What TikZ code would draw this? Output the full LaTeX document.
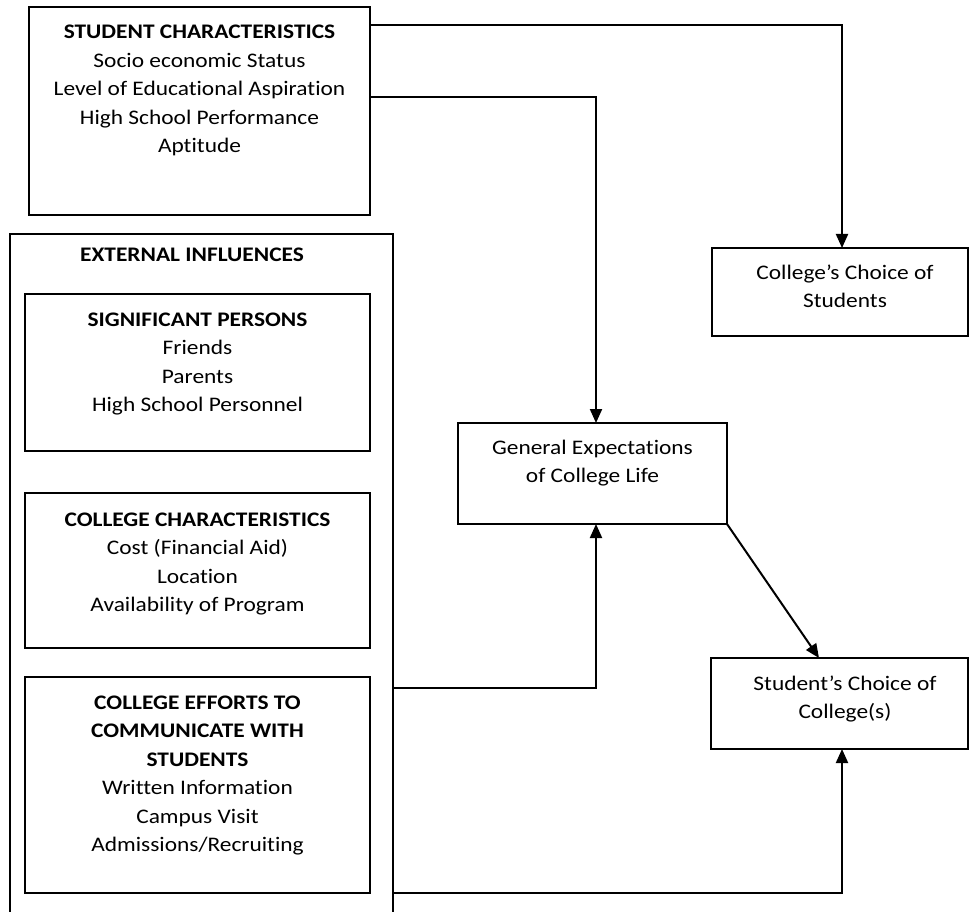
\documentclass[tikz,border=0pt]{standalone}
\usepackage{fontspec}
\setmainfont[FakeStretch=1.13, RawFeature={-liga;-dlig}]{Carlito}
\usetikzlibrary{arrows.meta,calc}

% invisible strut that fixes the height of a first text line
\newcommand{\firstline}{\rule{0pt}{16pt}}

\tikzset{
  box/.style={draw=black, line width=1.3pt, rectangle, inner sep=0pt,
              outer sep=0pt, anchor=north west},
  txt/.style={align=center, inner sep=0pt, outer sep=0pt, anchor=north,
              font=\fontsize{20.7pt}{28.5pt}\selectfont},
  arr/.style={draw=black, line width=2pt,
              -{Triangle[length=14pt,width=12pt]}}
}

\begin{document}
\begin{tikzpicture}[x=1pt,y=-1pt]
  \clip (0,0) rectangle (969,912);
  \fill[white] (0,0) rectangle (969,912);

  % ---- student characteristics ----
  \node[box, minimum width=341pt, minimum height=208pt] (sc) at (29,7) {};
  \node[txt] (sctext) at (199.5,23) {\firstline\textbf{STUDENT CHARACTERISTICS}\\
    Socio economic Status\\Level of Educational Aspiration\\
    High School Performance\\Aptitude};

  % ---- external influences and its three groups ----
  \node[box, minimum width=383pt, minimum height=700pt] (ext) at (10,234) {};
  \node[txt] (exttext) at (192,245.5) {\firstline\textbf{EXTERNAL INFLUENCES}};

  \node[box, minimum width=345pt, minimum height=157pt] (sp) at (25,294) {};
  \node[txt] (sptext) at (197.5,310) {\firstline\textbf{SIGNIFICANT PERSONS}\\
    Friends\\Parents\\High School Personnel};

  \node[box, minimum width=345pt, minimum height=155pt] (cc) at (25,493) {};
  \node[txt] (cctext) at (197.5,510) {\firstline\textbf{COLLEGE CHARACTERISTICS}\\
    Cost (Financial Aid)\\Location\\Availability of Program};

  \node[box, minimum width=345pt, minimum height=216pt] (ce) at (25,677) {};
  \node[txt] (cetext) at (197.5,693) {\firstline\textbf{COLLEGE EFFORTS TO}\\
    \textbf{COMMUNICATE WITH}\\\textbf{STUDENTS}\\
    Written Information\\Campus Visit\\Admissions/Recruiting};

  % ---- outcome boxes ----
  \node[box, minimum width=256pt, minimum height=88pt] (cchoice) at (712,248) {};
  \node[txt] (cchoicetext) at (845,263) {\firstline College’s Choice of\\Students};

  \node[box, minimum width=269pt, minimum height=101pt] (gen) at (458,423) {};
  \node[txt] (gentext) at (592.5,438) {\firstline General Expectations\\of College Life};

  \node[box, minimum width=257pt, minimum height=91pt] (schoice) at (711,658) {};
  \node[txt] (schoicetext) at (845,674) {\firstline Student’s Choice of\\College(s)};

  % ---- connector columns ----
  \coordinate (colA) at (842,0);
  \coordinate (colB) at (596,0);
  \coordinate (colC) at (819,0);

  % ---- connectors ----
  \draw[arr] ($(sc.north east)+(0,18)$) -| (colA |- cchoice.north);
  \draw[arr] ($(sc.north east)+(0,90)$) -| (colB |- gen.north);
  \draw[arr] ($(ext.north east)+(0,454)$) -| (colB |- gen.south);
  \draw[arr] (gen.south east) -- (colC |- schoice.north);
  \draw[arr] ($(ext.north east)+(0,659)$) -| (colA |- schoice.south);
\end{tikzpicture}
\end{document}
